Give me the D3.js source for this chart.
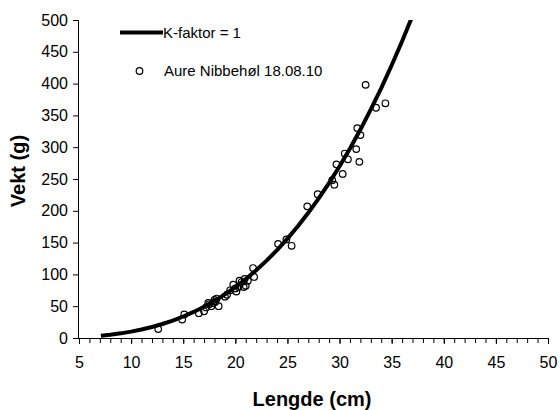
<!DOCTYPE html>
<html>
<head>
<meta charset="utf-8">
<script src="https://cdn.jsdelivr.net/npm/d3@7"></script>
<style>
  html, body { margin: 0; padding: 0; background: #fff; }
  svg { display: block; font-family: "Liberation Sans", Arial, sans-serif; }
</style>
</head>
<body>
<svg id="chart" width="560" height="410"></svg>
<script>
// Curve: K-faktor = 1
const curveLength = [7.1, 8, 9, 10, 11, 12, 13, 14, 15, 16, 17, 18, 19, 20, 21, 22, 23, 24, 25, 26, 27, 28, 29, 30, 31, 32, 33, 34, 35, 36, 37.1];
const curveWeight = [3.6, 5.1, 7.3, 10, 13.3, 17.3, 22, 27.4, 33.8, 41, 49.1, 58.3, 68.6, 80, 92.6, 106.5, 121.7, 138.2, 156.3, 175.8, 196.8, 219.5, 243.9, 270, 297.9, 327.7, 359.4, 393, 428.8, 466.6, 510.7];

// Observed fish: Aure Nibbehøl 18.08.10
const fishLength = [12.6, 14.9, 15.1, 16.5, 17.0, 17.2, 17.4, 17.5, 17.7, 17.9, 18.0, 18.1, 18.4, 18.2, 19.0, 19.2, 19.5, 19.8, 20.0, 20.1, 20.3, 20.4, 20.6, 20.8, 20.9, 21.0, 21.2, 21.7, 21.8, 24.1, 24.9, 25.4, 26.9, 27.9, 29.3, 29.5, 29.7, 30.3, 30.5, 30.8, 31.6, 31.9, 31.7, 32.0, 32.5, 33.5, 34.4];
const fishWeight = [14, 29, 37, 39, 42, 48, 55, 53, 50, 55, 60, 57, 50, 62, 65, 68, 75, 84, 78, 73, 80, 90, 88, 80, 93, 82, 90, 110, 96, 148, 155, 145, 207, 226, 248, 241, 273, 258, 290, 281, 297, 277, 330, 319, 398, 362, 369];

const xTicks = [5, 10, 15, 20, 25, 30, 35, 40, 45, 50];
const xMinorTicks = d3.range(5, 51, 1);
const yTicks = [0, 50, 100, 150, 200, 250, 300, 350, 400, 450, 500];
const legendLabels = ["K-faktor = 1", "Aure Nibbehøl 18.08.10"];
const xTitle = "Lengde (cm)";
const yTitle = "Vekt (g)";

const svg = d3.select("#chart");
const mLeft = 79, mRight = 548, mTop = 20, mBottom = 338;
const FONT = "Liberation Sans, Arial, sans-serif";

const x = d3.scaleLinear().domain([5, 50]).range([mLeft, mRight]);
const y = d3.scaleLinear().domain([0, 500]).range([mBottom, mTop]);

// Clip
svg.append("defs").append("clipPath").attr("id", "clip")
  .append("rect").attr("x", mLeft).attr("y", mTop).attr("width", mRight - mLeft).attr("height", mBottom - mTop);

// X axis minor ticks
const xAxisG = svg.append("g").attr("transform", `translate(0,${mBottom})`);
xAxisG.call(d3.axisBottom(x).tickValues(xMinorTicks).tickSize(5).tickFormat(""))
  .call(g => g.select(".domain").remove());
xAxisG.selectAll("line").attr("stroke", "#000");
const xMajor = svg.append("g").attr("transform", `translate(0,${mBottom})`)
  .call(d3.axisBottom(x).tickValues(xTicks).tickSize(6).tickPadding(13).tickFormat(d3.format("d")));
xMajor.select(".domain").attr("d", `M${mLeft},0.5H${mRight}`).attr("stroke", "#000");
xMajor.selectAll("text").attr("font-size", 16).attr("font-family", FONT).attr("fill", "#000");
xMajor.selectAll("line").attr("stroke", "#000");

// Y axis
const yAxis = svg.append("g").attr("transform", `translate(${mLeft},0)`)
  .call(d3.axisLeft(y).tickValues(yTicks).tickSize(6).tickPadding(5));
yAxis.select(".domain").attr("d", `M-0.5,${mTop}V${mBottom}`).attr("stroke", "#000");
yAxis.selectAll("text").attr("font-size", 16).attr("font-family", FONT).attr("fill", "#000");
yAxis.selectAll("line").attr("stroke", "#000");

// Curve
const curvePts = curveLength.map((l, i) => [l, curveWeight[i]]);
svg.append("path")
  .attr("clip-path", "url(#clip)")
  .attr("d", d3.line().x(d => x(d[0])).y(d => y(d[1]))(curvePts))
  .attr("fill", "none").attr("stroke", "#000").attr("stroke-width", 4).attr("stroke-linejoin", "round");

// Points
svg.append("g").selectAll("circle")
  .data(fishLength.map((l, i) => [l, fishWeight[i]]))
  .join("circle")
  .attr("cx", d => x(d[0])).attr("cy", d => y(d[1])).attr("r", 3.3)
  .attr("fill", "none").attr("stroke", "#000").attr("stroke-width", 1.2);

// Legend
const lg = svg.append("g");
lg.append("line").attr("x1", 120).attr("x2", 163).attr("y1", 32.5).attr("y2", 32.5)
  .attr("stroke", "#000").attr("stroke-width", 4);
lg.append("text").attr("x", 163).attr("y", 32.5).attr("dy", "0.35em").attr("font-size", 15).attr("font-family", FONT).text(legendLabels[0]);
lg.append("circle").attr("cx", 139.5).attr("cy", 71).attr("r", 3.3)
  .attr("fill", "none").attr("stroke", "#000").attr("stroke-width", 1.2);
lg.append("text").attr("x", 164).attr("y", 71).attr("dy", "0.35em").attr("font-size", 15).attr("font-family", FONT).text(legendLabels[1]);

// Axis titles
svg.append("text").attr("x", 312).attr("y", 406).attr("text-anchor", "middle")
  .attr("font-size", 20).attr("font-weight", "bold").attr("font-family", FONT).text(xTitle);
svg.append("text").attr("transform", "translate(25,171) rotate(-90)").attr("text-anchor", "middle")
  .attr("font-size", 20).attr("font-weight", "bold").attr("font-family", FONT).text(yTitle);
</script>
</body>
</html>
